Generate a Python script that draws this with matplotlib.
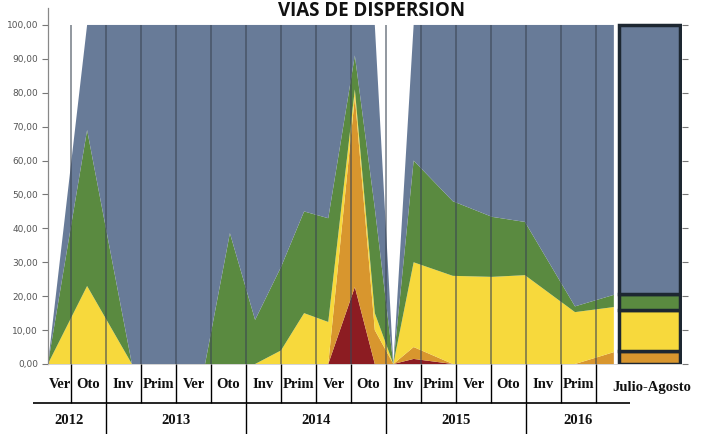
import matplotlib
matplotlib.use("Agg")
import matplotlib.pyplot as plt
import numpy as np

# ---------------- data ----------------
seasons = ["Ver", "Oto", "Inv", "Prim", "Ver", "Oto", "Inv", "Prim", "Ver", "Oto",
           "Inv", "Prim", "Ver", "Oto", "Inv", "Prim"]
last_label = "Julio-Agosto"
years = ["2012", "2013", "2014", "2015", "2016"]
year_cells = [2, 4, 4, 4, 3]

# sample positions along the season axis (cell index units)
sample_pos = [0.34, 1.46, 2.74, 4.83, 5.54, 6.26, 7.00, 7.66, 8.35, 9.11,
              9.68, 10.21, 10.79, 11.91, 13.03, 13.97, 15.40, 16.51]
red    = [0, 0, 0, 0, 0,    0,  0,    0,    0,    22.7, 0,  0, 1.5, 0,  0,    0,    0,    0]
orange = [0, 0, 0, 0, 0,    0,  0,    0,    0,    56.1, 10, 0, 3.5, 0,  0,    0,    0,    3.5]
yellow = [0, 23, 0, 0, 0,   0,  4,    15,   12.4, 2.2,  5,  0, 25,  26, 25.7, 26.2, 15.3, 13.3]
green  = [0, 46, 0, 0, 38.6, 13, 24.6, 30,  30.6, 10,   31, 0, 30,  22, 17.7, 15.7, 1.7,  3.6]
blue   = [0, 31, 100, 100, 61.4, 87, 71.4, 55, 57, 9,   54, 0, 40,  52, 56.6, 58.1, 83,   79.6]

# Julio-Agosto stacked bar
bar_vals = {"red": 0.0, "orange": 3.8, "yellow": 12.2, "green": 4.5, "blue": 79.5}

colors = {"red": "#8c1c22", "orange": "#d8962e", "yellow": "#f7d93c",
          "green": "#5a8a40", "blue": "#687b98"}

# ---------------- figure ----------------
W, H = 717, 434
fig = plt.figure(figsize=(W / 100, H / 100), dpi=100)

x_left, x_right = 0.34, 18.46
px_left = 71 + (x_left - 1) * 35
px_right = 71 + (x_right - 1) * 35
ax_l = px_left / W
ax_w = (px_right - px_left) / W
y0_px, ytop_px = 364, 8
ax = fig.add_axes([ax_l, (H - y0_px) / H, ax_w, (y0_px - ytop_px) / H])

ax.stackplot(sample_pos, red, orange, yellow, green, blue,
             colors=[colors[k] for k in ["red", "orange", "yellow", "green", "blue"]],
             linewidth=0, zorder=2)

# season grid lines
bounds = np.arange(1, len(seasons) + 1)
ax.vlines(bounds, 0, 100, colors="#3a4452", linewidth=1.1, alpha=0.7, zorder=3)

# Julio-Agosto bar
bar_x = 17.53
bottom = 0
for k in ["red", "orange", "yellow", "green", "blue"]:
    v = bar_vals[k]
    if v > 0:
        ax.bar(bar_x, v, bottom=bottom, width=1.72, color=colors[k],
               edgecolor="#1d2731", linewidth=2.5, zorder=4)
    bottom += v

ax.set_xlim(x_left, x_right)
ax.set_ylim(0, 105)
ax.set_yticks(np.arange(0, 101, 10))
ax.set_yticklabels([f"{v:.2f}".replace(".", ",") for v in np.arange(0, 101, 10)],
                   fontsize=6.5, color="#555555")
ax.yaxis.set_ticks_position("both")
ax.tick_params(axis="y", direction="out", length=4, width=0.8, color="#777777",
               labelright=False, pad=3)
ax.set_xticks([])
for s in ["top", "right"]:
    ax.spines[s].set_visible(False)
ax.spines["left"].set_color("#888888")
ax.spines["left"].set_linewidth(0.9)
ax.spines["bottom"].set_color("#cccccc")
ax.spines["bottom"].set_linewidth(0.6)
ax.patch.set_alpha(0)

# ---------------- table below ----------------
tab = fig.add_axes([ax_l, 0, ax_w, 70 / H])
tab.set_xlim(x_left, x_right)
tab.set_ylim(0, 70)
tab.axis("off")

# season cell borders
tab.vlines(bounds, 31, 70, colors="black", linewidth=1.0, clip_on=False)
tab.hlines(31, -0.09, 16.97, colors="black", linewidth=1.2, clip_on=False)
# year separators
cum = np.cumsum(year_cells)
tab.vlines(cum[:-1], 0, 31, colors="black", linewidth=1.0, clip_on=False)

sfont = dict(family=["Liberation Serif", "DejaVu Serif"], fontweight="bold",
             fontsize=10.5, color="#111111", ha="center", va="center")
for i, s in enumerate(seasons):
    cx = (0.38 + 1) / 2 if i == 0 else i + 0.5
    tab.text(cx, 50, s, clip_on=False, **sfont)
tab.text(17.6, 46, last_label, clip_on=False, **sfont)

starts = np.concatenate([[-0.09], cum[:-1]])
ends = np.concatenate([cum[:-1], [16.97]])
for y, a, b in zip(years, starts, ends):
    tab.text((a + b) / 2, 14, y, clip_on=False, **sfont)

# ---------------- title ----------------
fig.text(0.518, 1 - 1.5 / H, "VIAS DE DISPERSION", ha="center", va="top",
         fontsize=13.5, fontweight="bold", family="Open Sans", color="#111111")

fig.savefig("out.png", dpi=100)
